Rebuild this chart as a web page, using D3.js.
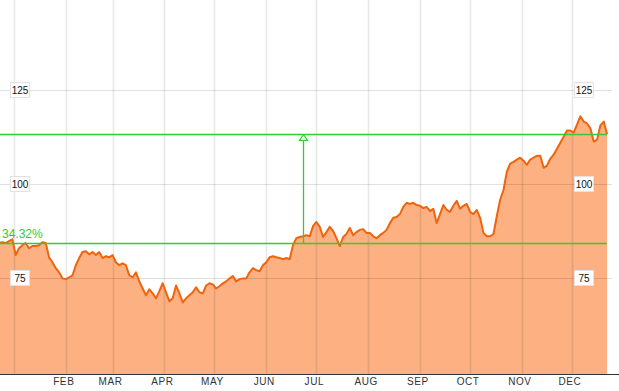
<!DOCTYPE html>
<html>
<head>
<meta charset="utf-8">
<script src="https://cdn.jsdelivr.net/npm/d3@7/dist/d3.min.js"></script>
<style>
  html, body { margin: 0; padding: 0; background: #fff; }
  svg { display: block; }
</style>
</head>
<body>
<svg id="chart" width="619" height="391"></svg>
<script>
// ---- data ----
const dates = [
"2012-12-23","2012-12-25","2012-12-27","2012-12-29","2012-12-31",
"2013-01-02","2013-01-04","2013-01-06","2013-01-08","2013-01-10","2013-01-12","2013-01-14","2013-01-16","2013-01-18","2013-01-20","2013-01-22","2013-01-24","2013-01-26","2013-01-28","2013-01-30",
"2013-02-01","2013-02-03","2013-02-05","2013-02-07","2013-02-09","2013-02-11","2013-02-13","2013-02-15","2013-02-17","2013-02-19","2013-02-21","2013-02-23","2013-02-25","2013-02-27",
"2013-03-01","2013-03-03","2013-03-05","2013-03-07","2013-03-09","2013-03-11","2013-03-13","2013-03-15","2013-03-17","2013-03-19","2013-03-21","2013-03-23","2013-03-25","2013-03-27","2013-03-29","2013-03-31",
"2013-04-02","2013-04-04","2013-04-06","2013-04-08","2013-04-10","2013-04-12","2013-04-14","2013-04-16","2013-04-18","2013-04-20","2013-04-22","2013-04-24","2013-04-26","2013-04-28","2013-04-30",
"2013-05-02","2013-05-04","2013-05-06","2013-05-08","2013-05-10","2013-05-12","2013-05-14","2013-05-16","2013-05-18","2013-05-20","2013-05-22","2013-05-24","2013-05-26","2013-05-28","2013-05-30",
"2013-06-01","2013-06-03","2013-06-05","2013-06-07","2013-06-09","2013-06-11","2013-06-13","2013-06-15","2013-06-17","2013-06-19","2013-06-21","2013-06-23","2013-06-25","2013-06-27","2013-06-29",
"2013-07-01","2013-07-03","2013-07-05","2013-07-07","2013-07-09","2013-07-11","2013-07-13","2013-07-15","2013-07-17","2013-07-19","2013-07-21","2013-07-23","2013-07-25","2013-07-27","2013-07-29","2013-07-31",
"2013-08-02","2013-08-04","2013-08-06","2013-08-08","2013-08-10","2013-08-12","2013-08-14","2013-08-16","2013-08-18","2013-08-20","2013-08-22","2013-08-24","2013-08-26","2013-08-28","2013-08-30",
"2013-09-01","2013-09-03","2013-09-05","2013-09-07","2013-09-09","2013-09-11","2013-09-13","2013-09-15","2013-09-17","2013-09-19","2013-09-21","2013-09-23","2013-09-25","2013-09-27","2013-09-29",
"2013-10-01","2013-10-03","2013-10-05","2013-10-07","2013-10-09","2013-10-11","2013-10-13","2013-10-15","2013-10-17","2013-10-19","2013-10-21","2013-10-23","2013-10-25","2013-10-27","2013-10-29","2013-10-31",
"2013-11-02","2013-11-04","2013-11-06","2013-11-08","2013-11-10","2013-11-12","2013-11-14","2013-11-16","2013-11-18","2013-11-20","2013-11-22","2013-11-24","2013-11-26","2013-11-28","2013-11-30",
"2013-12-02","2013-12-04","2013-12-06","2013-12-08","2013-12-10","2013-12-12","2013-12-14","2013-12-16","2013-12-18","2013-12-20","2013-12-22"
];
const values = [
84.3, 84.5, 84.3, 84.8, 85.3, 81.1, 82.9, 83.7, 84.3, 82.9,
83.5, 83.5, 83.7, 84.5, 84.3, 80.5, 79.2, 77.6, 76.5, 74.9,
74.7, 75.2, 75.7, 78.4, 80.3, 81.9, 82.1, 81.3, 81.9, 81.1,
81.9, 80.3, 80.8, 80.5, 81.1, 79.2, 78.4, 78.9, 78.4, 75.7,
75.2, 76.5, 74.1, 72.2, 70.4, 72.0, 70.9, 69.6, 71.5, 73.6,
71.2, 68.8, 69.6, 73.0, 70.9, 68.5, 69.6, 70.4, 71.2, 72.5,
71.2, 70.9, 73.0, 73.6, 73.3, 72.2, 72.8, 73.6, 74.1, 74.9,
75.5, 74.1, 74.7, 74.9, 74.9, 76.5, 77.6, 77.1, 76.8, 78.4,
79.2, 80.5, 80.8, 80.5, 80.3, 80.0, 80.3, 80.0, 83.7, 85.6,
85.9, 86.1, 86.4, 86.1, 88.8, 89.9, 88.6, 85.9, 87.2, 88.6,
87.5, 85.6, 83.5, 85.9, 86.7, 88.3, 86.4, 87.2, 87.8, 88.0,
87.0, 87.0, 86.1, 85.6, 86.4, 87.0, 87.8, 89.6, 91.0, 91.2,
92.0, 93.9, 95.0, 94.7, 95.0, 94.4, 94.2, 93.6, 93.9, 92.8,
93.4, 89.6, 92.0, 94.4, 93.1, 92.6, 94.2, 95.5, 93.4, 94.2,
94.7, 92.6, 92.0, 93.1, 91.0, 87.0, 86.1, 86.1, 86.7, 91.5,
95.8, 98.4, 103.3, 105.4, 105.9, 106.5, 107.0, 106.2, 105.1, 106.5,
107.0, 107.5, 107.5, 104.3, 104.9, 106.7, 107.8, 109.4, 111.0, 112.6,
114.2, 114.2, 113.7, 115.8, 118.0, 116.6, 116.1, 114.8, 111.3, 111.8,
115.6, 116.6, 113.2
];
const monthStarts = ["2013-01-01","2013-02-01","2013-03-01","2013-04-01","2013-05-01","2013-06-01","2013-07-01","2013-08-01","2013-09-01","2013-10-01","2013-11-01","2013-12-01"];
const monthLabels = ["", "FEB","MAR","APR","MAY","JUN","JUL","AUG","SEP","OCT","NOV","DEC"];
const yTicks = [75, 100, 125];
const changeLabel = "34.32%";
const arrowDate = "2013-06-23";

// ---- layout ----
const W = 619, H = 391, baseY = 374;
const parse = d3.utcParse("%Y-%m-%d");
const data = dates.map((d, i) => ({ date: parse(d), value: values[i] }));

const x = d3.scaleUtc()
  .domain([parse("2013-01-01"), parse("2013-12-01")])
  .range([14, 572]);
const y = d3.scaleLinear().domain([75, 125]).range([278, 90]);

const svg = d3.select("#chart");

// area
const area = d3.area()
  .x(d => x(d.date))
  .y0(baseY)
  .y1(d => y(d.value));
svg.append("path").datum(data)
  .attr("d", area)
  .attr("fill", "#fc8a45")
  .attr("fill-opacity", 0.68);

// vertical gridlines
svg.append("g").selectAll("line").data(monthStarts).join("line")
  .attr("x1", d => Math.round(x(parse(d))) + 0.5)
  .attr("x2", d => Math.round(x(parse(d))) + 0.5)
  .attr("y1", 0).attr("y2", baseY)
  .attr("stroke", "#000").attr("stroke-opacity", 0.09).attr("stroke-width", 1.6);

// horizontal gridlines
svg.append("g").selectAll("line").data(yTicks).join("line")
  .attr("x1", 0).attr("x2", 612)
  .attr("y1", d => Math.round(y(d)) + 0.5)
  .attr("y2", d => Math.round(y(d)) + 0.5)
  .attr("stroke", "#000").attr("stroke-opacity", 0.12).attr("stroke-width", 1);

// price line
const line = d3.line().x(d => x(d.date)).y(d => y(d.value));
svg.append("path").datum(data)
  .attr("d", line)
  .attr("fill", "none")
  .attr("stroke", "#f0640c")
  .attr("stroke-width", 2)
  .attr("stroke-linejoin", "round");

// green change reference
const first = data[0], last = data[data.length - 1];
const green = "#33cc33";
const xEnd = x(last.date);
[first.value, last.value].forEach(v => {
  svg.append("line")
    .attr("x1", 0).attr("x2", xEnd)
    .attr("y1", Math.round(y(v)) + 0.5).attr("y2", Math.round(y(v)) + 0.5)
    .attr("stroke", green).attr("stroke-width", 1.4);
});
const ax = Math.round(x(parse(arrowDate))) + 0.5;
const yTop = Math.round(y(last.value)) + 0.5;
const yBot = Math.round(y(first.value)) + 0.5;
svg.append("line")
  .attr("x1", ax).attr("x2", ax)
  .attr("y1", yBot).attr("y2", yTop + 5)
  .attr("stroke", green).attr("stroke-width", 1.3);
svg.append("path")
  .attr("d", `M${ax},${yTop} L${ax - 4},${yTop + 6} L${ax + 4},${yTop + 6} Z`)
  .attr("fill", "#fff").attr("stroke", green).attr("stroke-width", 1.2);
svg.append("text")
  .attr("x", 2).attr("y", yBot - 6)
  .attr("font-family", "Liberation Sans, Arial, sans-serif")
  .attr("font-size", 12)
  .attr("fill", "#2ecc2e")
  .text(changeLabel);

// y labels (left & right)
[20, 584].forEach(cx => {
  const g = svg.append("g");
  yTicks.forEach(t => {
    const cy = y(t);
    g.append("rect")
      .attr("x", cx - 9.5).attr("y", Math.round(cy) - 7.5)
      .attr("width", 19).attr("height", 15)
      .attr("fill", "#fff").attr("stroke", "#e2e2e2").attr("stroke-width", 1);
    g.append("text")
      .attr("x", cx).attr("y", cy + 4)
      .attr("text-anchor", "middle")
      .attr("font-family", "Liberation Sans, Arial, sans-serif")
      .attr("font-size", 10)
      .attr("fill", "#111")
      .text(t);
  });
});

// x axis
svg.append("line")
  .attr("x1", 0).attr("x2", W)
  .attr("y1", baseY + 0.5).attr("y2", baseY + 0.5)
  .attr("stroke", "#333").attr("stroke-width", 1.2);
svg.append("g").selectAll("text").data(monthStarts).join("text")
  .attr("x", d => x(parse(d)) - 2)
  .attr("y", 385)
  .attr("text-anchor", "middle")
  .attr("font-family", "Liberation Sans, Arial, sans-serif")
  .attr("font-size", 10)
  .attr("letter-spacing", 0.6)
  .attr("fill", "#333")
  .text((d, i) => monthLabels[i]);
</script>
</body>
</html>
